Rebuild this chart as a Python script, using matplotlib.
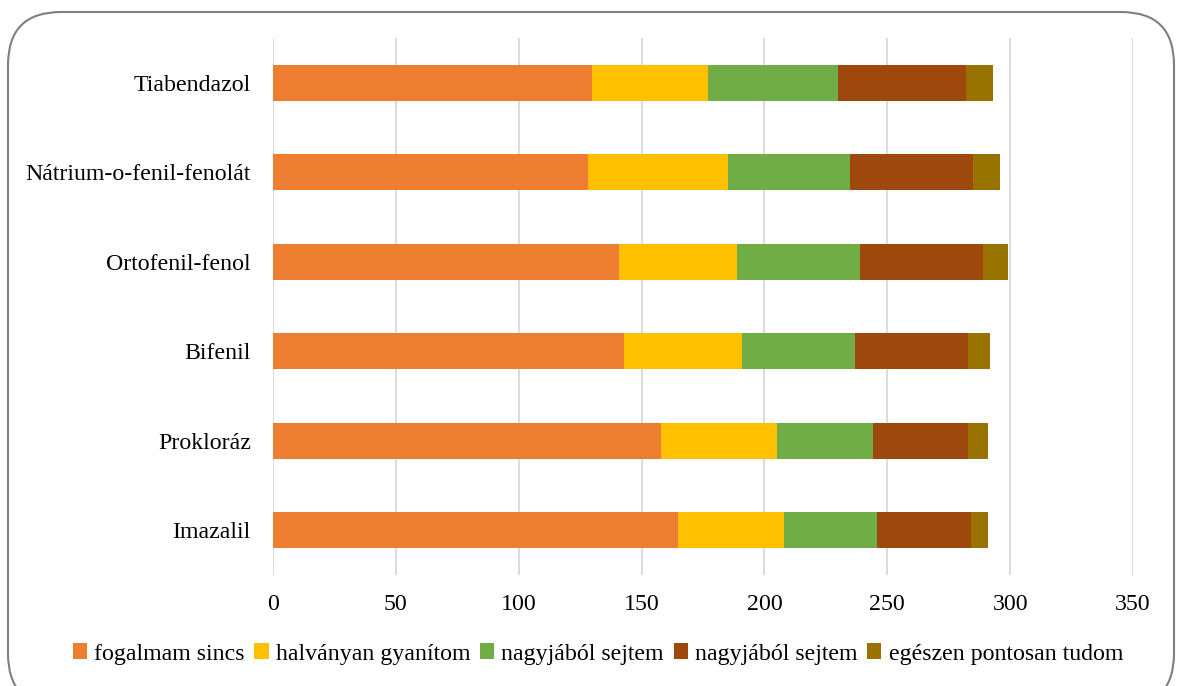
import matplotlib.pyplot as plt
import numpy as np
from matplotlib.patches import FancyBboxPatch

plt.rcParams['font.family'] = ['Liberation Serif', 'DejaVu Serif']

# categories, bottom to top
categories = ['Imazalil', 'Prokloráz', 'Bifenil', 'Ortofenil-fenol',
              'Nátrium-o-fenil-fenolát', 'Tiabendazol']
series_names = ['fogalmam sincs', 'halványan gyanítom', 'nagyjából sejtem',
                'nagyjából sejtem', 'egészen pontosan tudom']
fogalmam = [165, 158, 143, 141, 128, 130]
halvanyan = [43, 47, 48, 48, 57, 47]
nagyjabol_1 = [38, 39, 46, 50, 50, 53]
nagyjabol_2 = [38, 39, 46, 50, 50, 52]
egeszen = [7, 8, 9, 10, 11, 11]
colors = ['#ED7D31', '#FFC000', '#70AD47', '#9E480E', '#997300']

fig = plt.figure(figsize=(11.77, 6.86), dpi=100)

# rounded frame around the whole chart (bottom edge runs off the canvas)
frame = FancyBboxPatch((8 / 1177, -0.03), 1166 / 1177, 1 - 12 / 686 + 0.03,
                       boxstyle='round,pad=0,rounding_size=0.045',
                       transform=fig.transFigure, facecolor='none',
                       edgecolor='#7f7f7f', linewidth=1.5, zorder=-1,
                       mutation_aspect=1177 / 686)
fig.patches.append(frame)

ax = fig.add_axes([273 / 1177, 1 - 575 / 686, 860 / 1177, 537 / 686])
ax.set_facecolor('none')

y = np.arange(len(categories))
left = np.zeros(len(categories))
for vals, name, c in zip([fogalmam, halvanyan, nagyjabol_1, nagyjabol_2, egeszen],
                         series_names, colors):
    ax.barh(y, vals, left=left, height=0.4, color=c, label=name, zorder=3)
    left += np.array(vals)

ax.set_xlim(0, 350)
ax.set_ylim(-0.5, 5.5)
ax.set_xticks(np.arange(0, 351, 50))
ax.set_yticks(y)
ax.set_yticklabels(categories)
ax.grid(axis='x', color='#d9d9d9', linewidth=1.3, zorder=0)
for s in ax.spines.values():
    s.set_visible(False)
ax.tick_params(axis='both', length=0, labelsize=17.2)
ax.tick_params(axis='y', pad=16)
ax.tick_params(axis='x', pad=14)

handles, labels = ax.get_legend_handles_labels()
fig.legend(handles, labels, loc='center', bbox_to_anchor=(0.508, 1 - 654 / 686),
           ncol=5, frameon=False, fontsize=17.2, handlelength=0.6,
           handleheight=0.6, handletextpad=0.3, columnspacing=0.4)

fig.savefig('out.png', dpi=100)
